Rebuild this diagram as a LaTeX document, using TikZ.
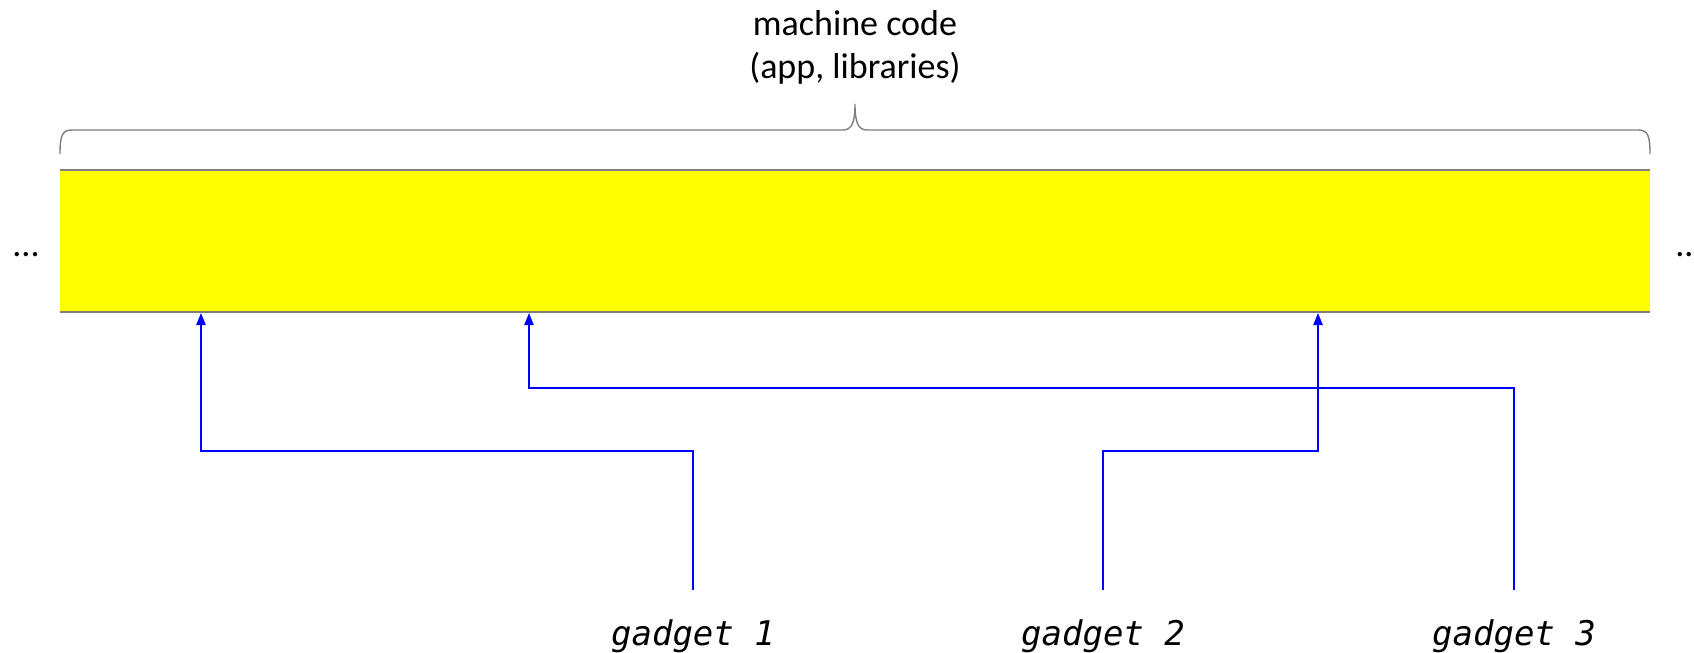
\documentclass[tikz,border=0pt]{standalone}
\usepackage{fontspec}
\setmainfont{Carlito}
\newfontfamily\codefont{DejaVu Sans Mono Oblique}
\usetikzlibrary{arrows.meta}
\definecolor{bandyellow}{RGB}{255,255,0}
\definecolor{edgegray}{RGB}{127,127,127}
\definecolor{linkblue}{RGB}{0,0,255}

\tikzset{
  bandedge/.style={draw=edgegray, line width=1pt},
  bracket/.style={draw=edgegray, line width=0.7pt},
  link/.style={draw=linkblue, line width=0.9pt, -{Triangle[length=6pt,width=4.6pt]}},
  gadgetlabel/.style={font=\codefont\fontsize{17}{20}\selectfont, anchor=base, inner sep=0pt},
  plain/.style={font=\fontsize{18}{21.5}\selectfont, inner sep=0pt},
}

\begin{document}
\begin{tikzpicture}[x=0.5pt,y=-0.5pt]
  \useasboundingbox (0,0) rectangle (1694,653);

  % the code region
  \fill[bandyellow] (60,170) rectangle (1650,312);
  \draw[bandedge] (60,170) -- (1650,170);
  \draw[bandedge] (60,312) -- (1650,312);

  % brace over the region
  \draw[bracket] (60,154) .. controls (60,136) and (62,130) .. (72,130)
    -- (843,130) .. controls (852,130) and (855,122) .. (855,104)
    .. controls (855,122) and (858,130) .. (867,130)
    -- (1638,130) .. controls (1648,130) and (1650,136) .. (1650,154);

  % multi-line node: its base anchor sits on the last line
  \node[plain, align=center, anchor=base] (title) at (855,78)
    {machine code\\(app, libraries)};

  \node[plain, anchor=base west] (moreL) at (12,256) {...};
  \node[plain, anchor=base west] (moreR) at (1675,256) {...};

  % gadget labels and the start of each connector
  \node[gadgetlabel] (g1) at (693,645) {gadget 1};
  \node[gadgetlabel] (g2) at (1103,645) {gadget 2};
  \node[gadgetlabel] (g3) at (1514,645) {gadget 3};
  \coordinate (s1) at (693,590);
  \coordinate (s2) at (1103,590);
  \coordinate (s3) at (1514,590);

  % targets on the lower edge of the region
  \coordinate (t1) at (201,313);
  \coordinate (t2) at (1318,313);
  \coordinate (t3) at (529,313);

  \draw[link] (s1) -- (693,451) -| (t1);
  \draw[link] (s3) -- (1514,388) -| (t3);
  \draw[link] (s2) -- (1103,451) -| (t2);
\end{tikzpicture}
\end{document}
